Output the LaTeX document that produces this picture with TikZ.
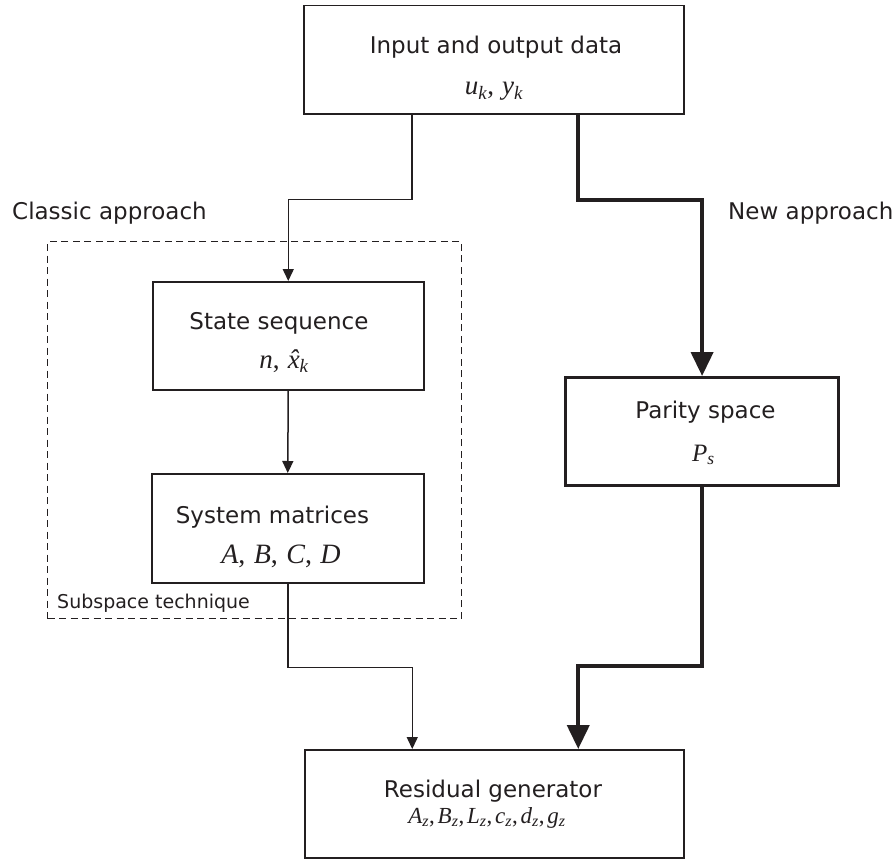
\documentclass[tikz,border=0pt]{standalone}
\usepackage{fontspec}
\setmainfont{DejaVu Sans}
\newfontfamily\tmsf{Liberation Serif}
\usetikzlibrary{arrows.meta,calc}
\definecolor{ink}{HTML}{231F20}
% italic variable and italic subscript (used inside \tmsf)
\newcommand\iv[1]{{\itshape #1}}
\newcommand\sbs[1]{\textsubscript{\itshape #1}}
\newcommand\cm{,\hspace{0.3em}}
\newcommand\tcm{,\hspace{0.12em}}
\begin{document}
\begin{tikzpicture}[x=1pt,y=-1pt,
  every node/.style={text=ink},
  box/.style={draw=ink,line width=1.5pt,fill=white,inner sep=0pt,anchor=north west},
  heavybox/.style={box,line width=3.2pt},
  region/.style={draw=ink,line width=1.4pt,dash pattern=on 7pt off 4.5pt,inner sep=0pt,anchor=north west},
  lbl/.style={font=\fontsize{23}{27}\selectfont,inner sep=0pt,anchor=base},
  small/.style={font=\fontsize{19}{23}\selectfont,inner sep=0pt,anchor=base west},
  mth/.style={font=\tmsf\fontsize{27}{31}\selectfont,inner sep=0pt,anchor=base},
  thinc/.style={draw=ink,line width=1.5pt,-{Triangle[width=11pt,length=12pt]}},
  thickc/.style={draw=ink,line width=4pt,-{Triangle[width=22pt,length=24pt]}}
]
\useasboundingbox (0,0) rectangle (894,859);

% dashed frame of the subspace technique
\node[region,minimum width=414pt,minimum height=377pt] (ssp) at (47,241) {};
\node[small] (ssplbl) at (57,608) {Subspace technique};

% blocks
\node[box,minimum width=380pt,minimum height=108pt] (in) at (303,5) {};
\node[box,minimum width=271pt,minimum height=108pt] (state) at (152,281) {};
\node[box,minimum width=272pt,minimum height=109pt] (sys) at (151,473) {};
\node[heavybox,minimum width=273pt,minimum height=108pt] (par) at (564,376) {};
\node[box,minimum width=379pt,minimum height=108pt] (res) at (304,749) {};

% block texts
\node[lbl] (inT) at (496,53) {Input and output data};
\node[mth] (inM) at (494,95) {\iv{u}\sbs{k}\cm\iv{y}\sbs{k}};
\node[lbl] (stT) at (279,329) {State sequence};
\node[mth] (stM) at (284,368) {\iv{n}\cm{\itshape\accent"02C6 x}\sbs{k}};
\node[lbl] (syT) at (272.5,523) {System matrices};
\node[mth,font=\tmsf\fontsize{28}{32}\selectfont] (syM) at (281,563) {\iv{A}\cm\iv{B}\cm\iv{C}\cm\iv{D}};
\node[lbl] (paT) at (705.5,418) {Parity space};
\node[mth,font=\tmsf\fontsize{25}{29}\selectfont] (paM) at (703.5,461) {\iv{P}\sbs{s}};
\node[lbl] (reT) at (493,797) {Residual generator};
\node[mth,font=\tmsf\fontsize{23}{27}\selectfont] (reM) at (487,823) {\iv{A}\sbs{z}\tcm\iv{B}\sbs{z}\tcm\iv{L}\sbs{z}\tcm\iv{c}\sbs{z}\tcm\iv{d}\sbs{z}\tcm\iv{g}\sbs{z}};

% branch labels
\node[lbl,anchor=base west] (classic) at (12,219) {Classic approach};
\node[lbl,anchor=base west] (newap) at (728,219) {New approach};

% classic branch
\draw[thinc] ([xshift=-82pt]in.south) -- ++(0,85) -| (state.north);
\draw[thinc] (state.south) -- (sys.north);
\draw[thinc] (sys.south) -- ++(0,84) -| ([xshift=-82pt]res.north);

% new branch
\draw[thickc] ([xshift=84pt]in.south) -- ++(0,85) -| (par.north);
\draw[thickc] (par.south) -- (par.south |- 0,666) -| ([xshift=84pt]res.north);
\end{tikzpicture}
\end{document}
